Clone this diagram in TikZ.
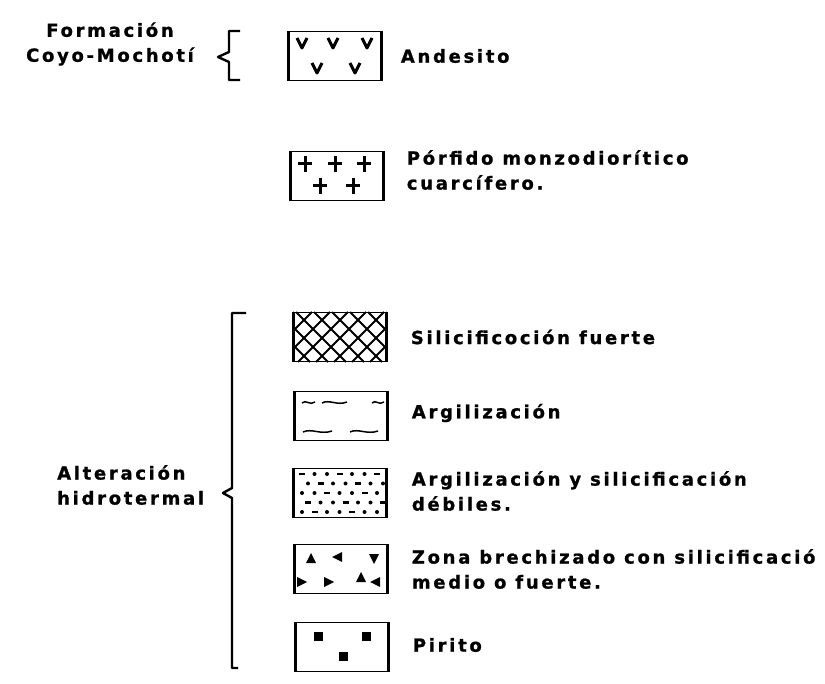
\documentclass[tikz,border=0pt]{standalone}
\usepackage{fontspec}
\newfontfamily\legfont{DejaVu Sans}[LetterSpace=15, BoldFeatures={FakeBold=1}]
\usetikzlibrary{positioning}

\begin{document}
\begin{tikzpicture}[x=1pt,y=-1pt,
    legbox/.style={draw, line width=1.4pt, minimum width=92pt, minimum height=49pt, inner sep=0pt},
    legtext/.style={font={\fontsize{18}{25}\selectfont\legfont\bfseries}, align=left, inner sep=0pt},
    symline/.style={line width=3pt, line join=round},
    bracket/.style={line width=2.4pt, line join=round}]
    \useasboundingbox (0,0) rectangle (825,684);

    % legend boxes
    \node[legbox] (andesita) at (335,56) {};
    \node[legbox] (porfido) at (337,176) {};
    \node[legbox] (silfuerte) at (340,337) {};
    \node[legbox] (argil) at (341,416) {};
    \node[legbox] (argsil) at (340,493) {};
    \node[legbox] (brecha) at (341,569) {};
    \node[legbox] (pirita) at (342,647) {};
    \foreach \b in {andesita,porfido,silfuerte,argil,argsil,brecha,pirita}
        \draw[line width=3pt] (\b.north west) -- (\b.south west) (\b.north east) -- (\b.south east);

    % labels
    \node[legtext, right=19pt of andesita] (tandesita) {Andesito};
    \node[legtext, right=23pt of porfido, yshift=6pt] (tporfido) {Pórfido monzodiorítico\\cuarcífero.};
    \node[legtext, right=24pt of silfuerte] (tsilfuerte) {Silicificoción fuerte};
    \node[legtext, right=24pt of argil, yshift=3pt] (targil) {Argilización};
    \node[legtext, right=25pt of argsil, yshift=2pt] (targsil) {Argilización y silicificación\\débiles.};
    \node[legtext, right=24pt of brecha] (tbrecha) {Zona brechizado con silicificació\\medio o fuerte.};
    \node[legtext, right=24pt of pirita, yshift=2pt] (tpirita) {Pirito};
    \node[legtext, align=center] (formacion) at (110,44) {Formación\\Coyo-Mochotí};
    \node[legtext, anchor=west] (alteracion) at (57,485) {Alteración\\hidrotermal};

    % braces
    \draw[bracket] (240,31) -- (229,31) -- (229,52) -- (218,57) -- (229,62) -- (229,80) -- (240,80);
    \draw[bracket] (246,313) -- (232,313) -- (232,488) -- (223,493) -- (232,498) -- (232,668) -- (238,668);

    % andesite
    \begin{scope}[shift={(andesita.center)}]
        \foreach \x/\y in {-33/-13,-2/-13,32/-13,-18/12,20/12}
            \draw[symline] (\x-5,\y-5) -- (\x,\y+5) -- (\x+5,\y-5);
    \end{scope}

    % porphyry
    \begin{scope}[shift={(porfido.center)}]
        \foreach \x/\y in {-32/-12,-2/-12,27/-12,-17/10,16/10}
            \draw[symline] (\x-7,\y) -- (\x+7,\y) (\x,\y-8) -- (\x,\y+8);
    \end{scope}

    % strong silicification
    \begin{scope}
        \clip (silfuerte.north west) rectangle (silfuerte.south east);
        \begin{scope}[shift={(silfuerte.center)}]
            \foreach \i in {-6,...,5} {
                \draw[line width=1.8pt] (\i*18-8,-25) -- ++(50,50);
                \draw[line width=1.8pt] (\i*18+8,-25) -- ++(-50,50);
            }
        \end{scope}
    \end{scope}

    % argillization
    \begin{scope}[shift={(argil.center)}]
        \foreach \a/\b/\y in {-39/-26/-13,-19/6/-13,31/43/-13,-38/-9/16,9/37/16}
            \draw[line width=1.5pt] (\a,\y) .. controls ({\a+(\b-\a)*0.3},\y-4) and ({\a+(\b-\a)*0.6},\y+3) .. (\b,\y-1);
    \end{scope}

    % weak argillization and silicification
    \begin{scope}[shift={(argsil.center)}]
        \foreach \r in {0,...,4}
            \foreach \c in {0,...,6} {
                \pgfmathsetmacro\px{-38+12.5*\c+6*mod(\r,2)}
                \pgfmathsetmacro\py{-19+9.5*\r}
                \pgfmathtruncatemacro\k{mod(\c+2*\r,3)}
                \ifnum\k=0
                    \fill (\px-3,\py-1.3) rectangle (\px+3,\py+1.3);
                \else
                    \fill (\px,\py) circle (2);
                \fi
            }
    \end{scope}

    % breccia
    \begin{scope}[shift={(brecha.center)}]
        \foreach \x/\y/\a in {-30/-10/0,-3/-12/90,33/-11/180,-40/13/270,-13/13/270,20/9/0,35/13/90}
            \fill[shift={(\x,\y)}, rotate=\a] (0,-6) -- (5,4) -- (-5,4) -- cycle;
    \end{scope}

    % pyrite
    \begin{scope}[shift={(pirita.center)}]
        \foreach \x/\y in {-24/-11,24/-11,1/9}
            \fill (\x-4.5,\y-4.5) rectangle (\x+4.5,\y+4.5);
    \end{scope}
\end{tikzpicture}
\end{document}
